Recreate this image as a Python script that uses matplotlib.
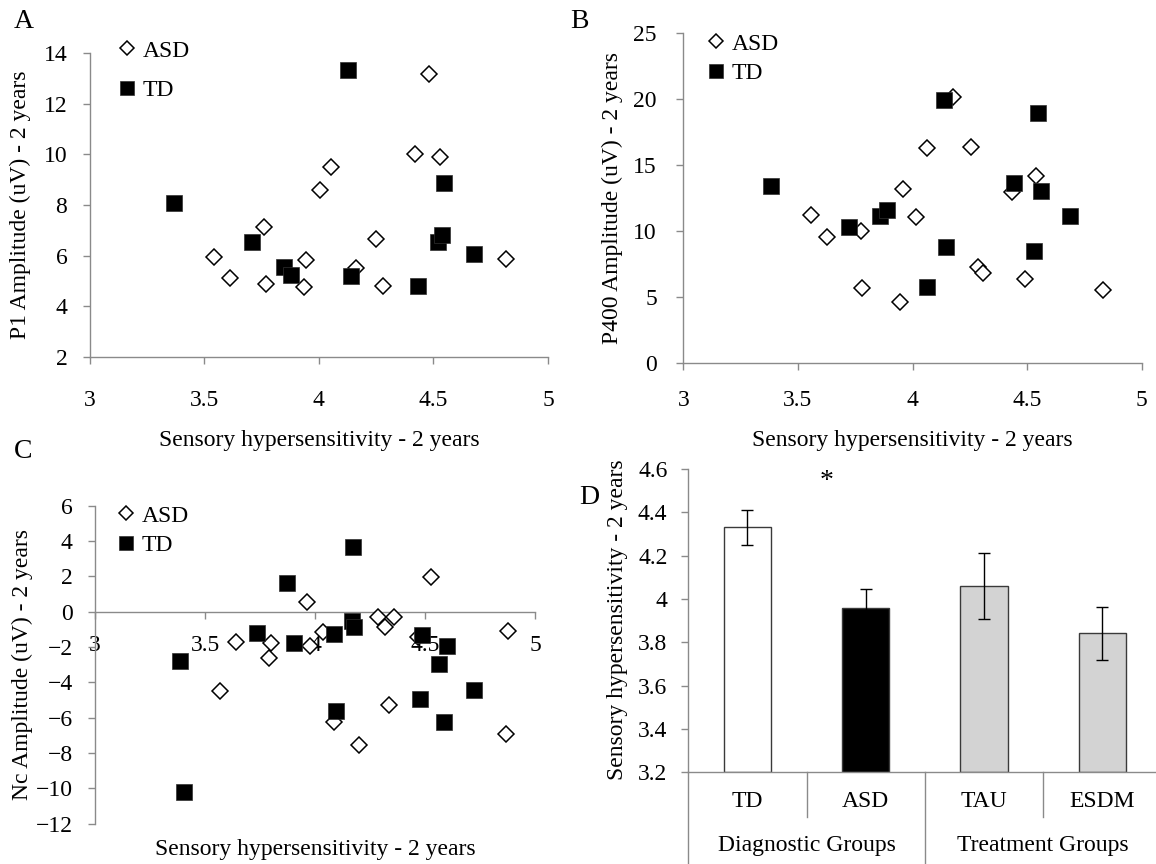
import matplotlib
matplotlib.use("Agg")
import matplotlib.pyplot as plt
from matplotlib.lines import Line2D
import numpy as np

plt.rcParams['font.family'] = ['Liberation Serif', 'DejaVu Serif']

W, H = 1156, 864

# ---------------- data ----------------
x_ticks = [3, 3.5, 4, 4.5, 5]
x_tick_labels = ["3", "3.5", "4", "4.5", "5"]

# Panel A: P1 amplitude
a_asd_x = [3.544, 3.613, 3.761, 3.770, 3.935, 3.943, 4.005, 4.053, 4.161, 4.249, 4.279, 4.420, 4.480, 4.530, 4.815]
a_asd_y = [5.95, 5.11, 7.15, 4.87, 4.78, 5.83, 8.60, 9.50, 5.50, 6.66, 4.82, 10.00, 13.17, 9.88, 5.87]
a_td_x = [3.370, 3.710, 3.848, 3.877, 4.129, 4.139, 4.434, 4.521, 4.539, 4.547, 4.677]
a_td_y = [8.07, 6.55, 5.55, 5.23, 13.34, 5.20, 4.82, 6.52, 6.82, 8.87, 6.07]
a_yticks = [2, 4, 6, 8, 10, 12, 14]

# Panel B: P400 amplitude
b_asd_x = [3.556, 3.625, 3.774, 3.781, 3.945, 3.957, 4.015, 4.061, 4.175, 4.257, 4.284, 4.306, 4.435, 4.490, 4.538, 4.831]
b_asd_y = [11.19, 9.55, 10.00, 5.64, 4.62, 13.13, 11.06, 16.29, 20.15, 16.34, 7.27, 6.77, 12.95, 6.34, 14.17, 5.51]
b_td_x = [3.381, 3.721, 3.858, 3.887, 4.061, 4.139, 4.148, 4.443, 4.529, 4.547, 4.559, 4.686]
b_td_y = [13.41, 10.26, 11.11, 11.57, 5.76, 19.88, 8.79, 13.64, 8.46, 18.92, 12.98, 11.14]
b_yticks = [0, 5, 10, 15, 20, 25]

# Panel C: Nc amplitude
c_asd_x = [3.568, 3.640, 3.790, 3.799, 3.965, 3.977, 4.036, 4.088, 4.199, 4.288, 4.318, 4.336, 4.359, 4.470, 4.527, 4.868, 4.879]
c_asd_y = [-4.48, -1.70, -2.64, -1.76, 0.57, -1.96, -1.17, -6.23, -7.55, -0.28, -0.85, -5.29, -0.28, -1.45, 1.98, -6.93, -1.08]
c_td_x = [3.386, 3.406, 3.735, 3.874, 3.906, 4.086, 4.094, 4.167, 4.174, 4.177, 4.477, 4.485, 4.565, 4.586, 4.598, 4.724]
c_td_y = [-2.78, -10.20, -1.19, 1.61, -1.79, -1.26, -5.63, -0.51, 3.68, -0.88, -4.96, -1.32, -2.97, -6.27, -1.93, -4.44]
c_yticks = [-12, -10, -8, -6, -4, -2, 0, 2, 4, 6]

# Panel D: bar chart
d_categories = ["TD", "ASD", "TAU", "ESDM"]
d_values = [4.331, 3.957, 4.060, 3.841]
d_errors = [0.080, 0.088, 0.152, 0.123]
d_groups = ["Diagnostic Groups", "Treatment Groups"]
d_yticks = [3.2, 3.4, 3.6, 3.8, 4.0, 4.2, 4.4, 4.6]
d_ytick_labels = ["3.2", "3.4", "3.6", "3.8", "4", "4.2", "4.4", "4.6"]

# ---------------- style ----------------
FS = 17
SPINE = '#8a8a8a'


def fx(px):
    return px / W


def fy(py):
    return 1 - py / H


def make_axes(left, right, top, bottom):
    return fig.add_axes([fx(left), fy(bottom), (right - left) / W, (bottom - top) / H])


def style_axes(ax, xpad, ypad):
    for s in ['top', 'right']:
        ax.spines[s].set_visible(False)
    for s in ['left', 'bottom']:
        ax.spines[s].set_color(SPINE)
        ax.spines[s].set_linewidth(1.0)
    ax.tick_params(axis='both', colors=SPINE, labelcolor='black', labelsize=FS,
                   length=5, width=1.0, direction='out')
    ax.tick_params(axis='x', pad=xpad)
    ax.tick_params(axis='y', pad=ypad)
    ax.patch.set_alpha(0)


def scatter_panel(ax, asd_x, asd_y, td_x, td_y):
    ax.plot(asd_x, asd_y, linestyle='none', marker='D', markersize=7.8,
            markerfacecolor='white', markeredgecolor='black', markeredgewidth=1.1,
            zorder=3, clip_on=False, label='ASD')
    ax.plot(td_x, td_y, linestyle='none', marker='s', markersize=11.5,
            markerfacecolor='black', markeredgecolor='#303030', markeredgewidth=0.5,
            zorder=4, clip_on=False, label='TD')


def add_legend(ax, left, top, spacing):
    fig.legend(*ax.get_legend_handles_labels(), loc='upper left',
               bbox_to_anchor=(fx(left), fy(top)), frameon=False,
               fontsize=FS, borderpad=0, borderaxespad=0, handlelength=0.8,
               handletextpad=0.25, labelspacing=spacing, markerscale=0.87,
               numpoints=1)


fig = plt.figure(figsize=(W / 100, H / 100), dpi=100)

# ---- Panel A ----
axA = make_axes(89.5, 548, 53, 357)
scatter_panel(axA, a_asd_x, a_asd_y, a_td_x, a_td_y)
axA.set_xlim(3, 5)
axA.set_ylim(2, 14)
axA.set_xticks(x_ticks)
axA.set_xticklabels(x_tick_labels)
axA.set_yticks(a_yticks)
style_axes(axA, xpad=19, ypad=11)
add_legend(axA, 118, 40, 0.75)
fig.text(fx(319), fy(440), "Sensory hypersensitivity - 2 years", fontsize=FS,
         ha='center', va='center')
fig.text(fx(20), fy(205), "P1 Amplitude (uV) - 2 years", fontsize=FS,
         ha='center', va='center', rotation=90)
fig.text(fx(14), fy(22), "A", fontsize=20, ha='left', va='center')

# ---- Panel B ----
axB = make_axes(683.3, 1141.8, 32.7, 362.7)
scatter_panel(axB, b_asd_x, b_asd_y, b_td_x, b_td_y)
axB.set_xlim(3, 5)
axB.set_ylim(0, 25)
axB.set_xticks(x_ticks)
axB.set_xticklabels(x_tick_labels)
axB.set_yticks(b_yticks)
style_axes(axB, xpad=15, ypad=14)
add_legend(axB, 707, 33, 0.35)
fig.text(fx(912), fy(440), "Sensory hypersensitivity - 2 years", fontsize=FS,
         ha='center', va='center')
fig.text(fx(612), fy(198), "P400 Amplitude (uV) - 2 years", fontsize=FS,
         ha='center', va='center', rotation=90)
fig.text(fx(570), fy(22), "B", fontsize=20, ha='left', va='center')

# ---- Panel C ----
axC = make_axes(95, 535, 505.7, 823.5)
scatter_panel(axC, c_asd_x, c_asd_y, c_td_x, c_td_y)
axC.set_xlim(3, 5)
axC.set_ylim(-12, 6)
axC.set_xticks(x_ticks)
axC.set_xticklabels(x_tick_labels)
axC.set_yticks(c_yticks)
axC.spines['bottom'].set_position(('data', 0))
style_axes(axC, xpad=12, ypad=11)
add_legend(axC, 117, 505, 0.35)
fig.text(fx(315), fy(850), "Sensory hypersensitivity - 2 years", fontsize=FS,
         ha='center', va='center')
fig.text(fx(22), fy(665), "Nc Amplitude (uV) - 2 years", fontsize=FS,
         ha='center', va='center', rotation=90)
fig.text(fx(14), fy(452), "C", fontsize=20, ha='left', va='center')

# ---- Panel D ----
axD = make_axes(688.3, 1161.3, 469, 772.3)
pos = np.arange(len(d_categories))
bar_colors = ['white', 'black', '#d3d3d3', '#d3d3d3']
axD.bar(pos, [v - 3.2 for v in d_values], bottom=3.2, width=0.4,
        color=bar_colors, edgecolor='#3a3a3a', linewidth=1.0, zorder=2)
axD.errorbar(pos, d_values, yerr=d_errors, fmt='none', ecolor='black',
             elinewidth=1.0, capsize=4, capthick=1.0, zorder=3)
axD.set_xlim(-0.5, 3.5)
axD.set_ylim(3.2, 4.6)
axD.set_yticks(d_yticks)
axD.set_yticklabels(d_ytick_labels)
axD.set_xticks([])
style_axes(axD, xpad=5, ypad=10)

trans = axD.get_xaxis_transform()
short_y = -0.146
long_y = -0.302
for xb, yb in [(0.5, short_y), (1.5, long_y), (2.5, short_y), (-0.5, long_y)]:
    axD.add_line(Line2D([xb, xb], [0, yb], transform=trans, color=SPINE,
                        linewidth=1.0, clip_on=False))
for i, c in enumerate(d_categories):
    axD.text(i, -0.097, c, transform=trans, ha='center', va='center', fontsize=FS)
for gx, g in zip([0.5, 2.5], d_groups):
    axD.text(gx, -0.24, g, transform=trans, ha='center', va='center', fontsize=FS)
axD.text(0.67, 4.54, "*", ha='center', va='center', fontsize=20)
fig.text(fx(618), fy(620), "Sensory hypersensitivity - 2 years", fontsize=FS,
         ha='center', va='center', rotation=90)
fig.text(fx(579), fy(497), "D", fontsize=20, ha='left', va='center')

fig.savefig("out.png", dpi=100)
